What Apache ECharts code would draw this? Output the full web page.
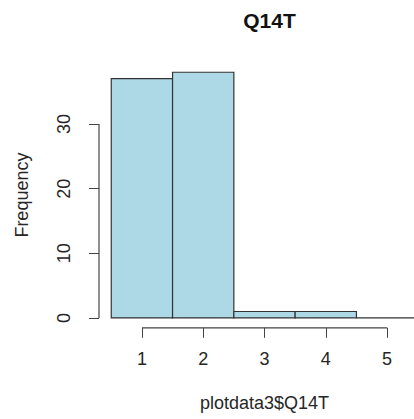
<!DOCTYPE html>
<html>
<head>
<meta charset="utf-8">
<script src="https://cdn.jsdelivr.net/npm/echarts@6/dist/echarts.min.js"></script>
<style>
  html, body { margin: 0; padding: 0; background: #ffffff; overflow: hidden; }
  #chart { width: 414px; height: 419px; }
</style>
</head>
<body>
<div id="chart"></div>
<script>
// Histogram of Q14T: bin edges and the count in each bin
const breaks = [0.5, 1.5, 2.5, 3.5, 4.5, 5.5];
const counts = [37, 38, 1, 1, 0];
const xTicks = [1, 2, 3, 4, 5];
const yTicks = [0, 10, 20, 30];
const chartTitle = 'Q14T';
const xTitle = 'plotdata3$Q14T';
const yTitle = 'Frequency';

const bins = counts.map((c, i) => [breaks[i], breaks[i + 1], c]);

// 4% padding on both axes, like base R graphics
const xLo = breaks[0], xHi = breaks[breaks.length - 1];
const yLo = 0, yHi = Math.max(...counts);
const xPad = (xHi - xLo) * 0.04;
const yPad = (yHi - yLo) * 0.04;

// the plot region runs a little past the right edge of the page
const gridBox = { left: 99, top: 62.4, width: 331, height: 265.4 };
const font = 'Liberation Sans, Arial, Helvetica, sans-serif';
const ink = '#262626';

const chart = echarts.init(document.getElementById('chart'), null, { renderer: 'svg' });

chart.setOption({
  animation: false,
  backgroundColor: '#ffffff',
  title: {
    text: chartTitle,
    left: gridBox.left + gridBox.width / 2,
    top: 5,
    textAlign: 'center',
    textStyle: { fontFamily: font, fontSize: 21, fontWeight: 'bold', color: '#111' }
  },
  grid: Object.assign({ containLabel: false, outerBoundsMode: 'none' }, gridBox),
  xAxis: {
    type: 'value',
    min: xLo - xPad,
    max: xHi + xPad,
    name: xTitle,
    nameLocation: 'middle',
    nameGap: 66,
    nameTextStyle: { fontFamily: font, fontSize: 18, color: ink },
    axisLine: { show: false, onZero: false },
    axisTick: { show: true, customValues: xTicks, length: 10, lineStyle: { color: '#444', width: 1 } },
    axisLabel: { customValues: xTicks, margin: 22, fontFamily: font, fontSize: 18, color: ink },
    splitLine: { show: false }
  },
  yAxis: {
    type: 'value',
    min: yLo - yPad,
    max: yHi + yPad,
    name: yTitle,
    nameLocation: 'middle',
    nameGap: 68,
    nameRotate: 90,
    nameTextStyle: { fontFamily: font, fontSize: 18, color: ink },
    axisLine: { show: false, onZero: false },
    axisTick: { show: true, customValues: yTicks, length: 10, lineStyle: { color: '#444', width: 1 } },
    axisLabel: { customValues: yTicks, rotate: 90, margin: 26, fontFamily: font, fontSize: 18, color: ink },
    splitLine: { show: false }
  },
  series: [
    {
      // histogram bars, one rectangle per bin
      type: 'custom',
      clip: true,
      data: bins,
      renderItem: function (params, api) {
        const p0 = api.coord([api.value(0), api.value(2)]);
        const p1 = api.coord([api.value(1), 0]);
        return {
          type: 'rect',
          shape: { x: p0[0], y: p0[1], width: p1[0] - p0[0], height: p1[1] - p0[1] },
          style: { fill: '#add8e6', stroke: '#333333', lineWidth: 1.2 }
        };
      }
    },
    {
      // axis lines spanning the first to last tick only
      type: 'custom',
      clip: false,
      silent: true,
      data: [0],
      renderItem: function (params, api) {
        const cs = params.coordSys;
        const bottom = cs.y + cs.height;
        const left = cs.x;
        const xa = api.coord([xTicks[0], 0])[0];
        const xb = api.coord([xTicks[xTicks.length - 1], 0])[0];
        const ya = api.coord([0, yTicks[0]])[1];
        const yb = api.coord([0, yTicks[yTicks.length - 1]])[1];
        return {
          type: 'group',
          children: [
            { type: 'line', shape: { x1: xa, y1: bottom, x2: xb, y2: bottom }, style: { stroke: '#444', lineWidth: 1.2 } },
            { type: 'line', shape: { x1: left, y1: ya, x2: left, y2: yb }, style: { stroke: '#444', lineWidth: 1.2 } }
          ]
        };
      }
    }
  ]
});
</script>
</body>
</html>
